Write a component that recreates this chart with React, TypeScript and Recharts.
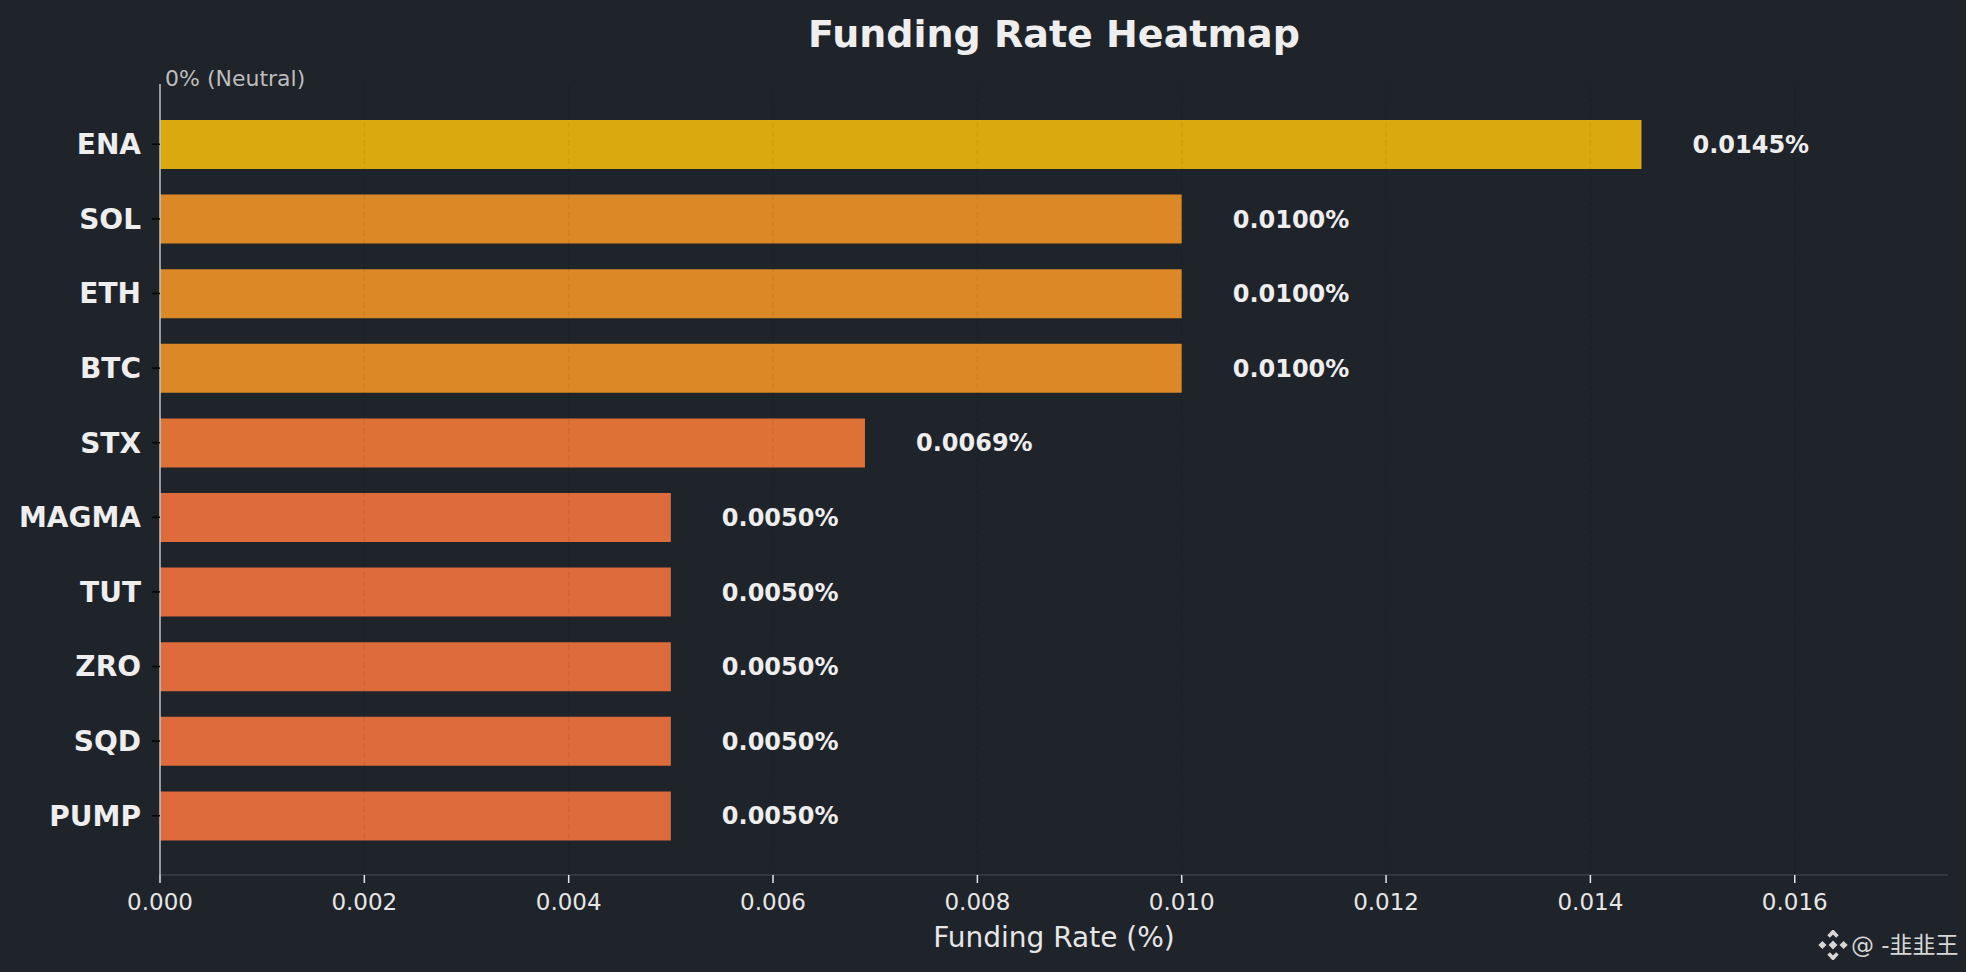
import { Bar, BarChart, Cell, LabelList, ReferenceLine, XAxis, YAxis } from "recharts";

const coins = ["ENA", "SOL", "ETH", "BTC", "STX", "MAGMA", "TUT", "ZRO", "SQD", "PUMP"];
const rates = [0.0145, 0.01, 0.01, 0.01, 0.0069, 0.005, 0.005, 0.005, 0.005, 0.005];
const xTicks = [0, 0.002, 0.004, 0.006, 0.008, 0.01, 0.012, 0.014, 0.016];

const barColors = [
  "#d9a90e",
  "#db8826",
  "#db8826",
  "#db8826",
  "#de7136",
  "#dd6b3b",
  "#dd6b3b",
  "#dd6b3b",
  "#dd6b3b",
  "#dd6b3b",
];

const data = coins.map((name, i) => ({ name, rate: rates[i] }));

const FONT = "'DejaVu Sans', sans-serif";
const BG = "#1f232a";

function BinanceIcon() {
  return (
    <svg width="30" height="30" viewBox="0 0 26 26">
      <g fill="#d6d6d6" transform="rotate(45 13 13)">
        <rect x="10.3" y="10.3" width="5.4" height="5.4" />
        <rect x="3.5" y="3.5" width="7" height="3.2" />
        <rect x="3.5" y="3.5" width="3.2" height="7" />
        <rect x="15.5" y="19.3" width="7" height="3.2" />
        <rect x="19.3" y="15.5" width="3.2" height="7" />
        <rect x="17" y="4" width="5" height="5" />
        <rect x="4" y="17" width="5" height="5" />
      </g>
    </svg>
  );
}

export default function App() {
  return (
    <div
      style={{
        position: "absolute",
        left: 0,
        top: 0,
        width: 1966,
        height: 972,
        background: BG,
        fontFamily: FONT,
        overflow: "hidden",
      }}
    >
      <div
        style={{
          position: "absolute",
          left: 160,
          width: 1788,
          top: 12,
          textAlign: "center",
          color: "#eeeeee",
          fontWeight: "bold",
          fontSize: 38,
          lineHeight: "44px",
        }}
      >
        Funding Rate Heatmap
      </div>

      <div
        style={{
          position: "absolute",
          left: 165,
          top: 66,
          color: "#bdbdbd",
          fontSize: 22,
          lineHeight: "26px",
          whiteSpace: "nowrap",
        }}
      >
        0% (Neutral)
      </div>

      <BarChart
        width={1966}
        height={972}
        data={data}
        layout="vertical"
        margin={{ top: 84, right: 18, bottom: 0, left: 0 }}
      >
        <XAxis
          type="number"
          domain={[0, 0.0175]}
          ticks={xTicks}
          tickFormatter={(v: number) => v.toFixed(3)}
          height={97}
          allowDataOverflow
          axisLine={{ stroke: "#3a3f47", strokeWidth: 1.5 }}
          tickLine={{ stroke: "#e6e6e6", strokeWidth: 1.5 }}
          tickSize={8}
          tickMargin={11}
          tick={{ fill: "#e6e6e6", fontSize: 23, fontFamily: FONT }}
        />
        <YAxis
          type="category"
          dataKey="name"
          width={160}
          padding={{ top: 23, bottom: 22 }}
          axisLine={{ stroke: "#c4c4c4", strokeWidth: 1.5 }}
          tickLine={{ stroke: "#000000", strokeWidth: 1.5 }}
          tickSize={8}
          tickMargin={11}
          tick={{ fill: "#eeeeee", fontSize: 28, fontWeight: "bold", fontFamily: FONT }}
        />
        <Bar dataKey="rate" barSize={49} isAnimationActive={false}>
          {data.map((d, i) => (
            <Cell key={d.name} fill={barColors[i]} />
          ))}
          <LabelList
            dataKey="rate"
            position="right"
            offset={51}
            formatter={(v: number) => `${v.toFixed(4)}%`}
            fill="#eeeeee"
            fontSize={24}
            fontWeight="bold"
            fontFamily={FONT}
          />
        </Bar>
        {xTicks.slice(1).map((t) => (
          <ReferenceLine
            key={t}
            x={t}
            stroke="#000000"
            strokeOpacity={0.05}
            strokeWidth={1.5}
            strokeDasharray="6 3"
          />
        ))}
      </BarChart>

      <div
        style={{
          position: "absolute",
          left: 160,
          width: 1788,
          top: 921,
          textAlign: "center",
          color: "#e6e6e6",
          fontSize: 28,
          lineHeight: "34px",
        }}
      >
        Funding Rate (%)
      </div>

      <div
        style={{
          position: "absolute",
          left: 1818,
          top: 929,
          display: "flex",
          alignItems: "center",
          gap: 3,
          color: "#d6d6d6",
          fontSize: 23,
          lineHeight: "32px",
          fontFamily: "'DejaVu Sans', 'Noto Sans CJK SC', sans-serif",
          whiteSpace: "nowrap",
        }}
      >
        <BinanceIcon />
        <span>@ -韭韭王</span>
      </div>
    </div>
  );
}
